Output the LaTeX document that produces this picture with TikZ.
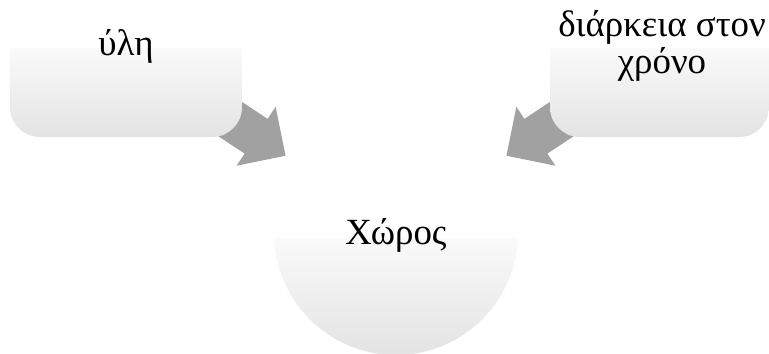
\documentclass[tikz,border=0pt]{standalone}
\usepackage{fontspec}
\setmainfont{Liberation Serif}
\usetikzlibrary{shapes.arrows}

\tikzset{
  panel/.style={top color=white!98!black, bottom color=white!89!black},
  bigarrow/.style={single arrow, fill=black!37, draw=none, inner sep=0.41cm,
    single arrow head extend=0.29cm, minimum height=1.8cm, anchor=tip},
  lbl/.style={font=\fontsize{21}{20.5}\selectfont, text=black, anchor=base}
}

\begin{document}
\begin{tikzpicture}[x=0.02cm,y=-0.02cm]
\clip (0,0) rectangle (769,353);

% arrows go under the boxes
\node[bigarrow, rotate=-33.5] (arrL) at (286,156) {};
\node[bigarrow, rotate=-146.5] (arrR) at (506,156) {};

% boxes, the top part fades out
\begin{scope}
\clip[rounded corners=17] (10,0) rectangle (242,137);
\shade[panel] (10,48) rectangle (242,137);
\end{scope}
\begin{scope}
\clip[rounded corners=17] (550,0) rectangle (769,137);
\shade[panel] (550,48) rectangle (769,137);
\end{scope}

% the ball, only its lower part shows
\begin{scope}
\clip (396,233) circle (122);
\shade[panel] (270,238) rectangle (520,356);
\end{scope}

\node[lbl] (matter) at (126,55) {ύλη};
\node[lbl, align=center] (duration) at (662,73) {διάρκεια στον\\χρόνο};
\node[lbl] (space) at (396,244) {Χώρος};
\end{tikzpicture}
\end{document}
